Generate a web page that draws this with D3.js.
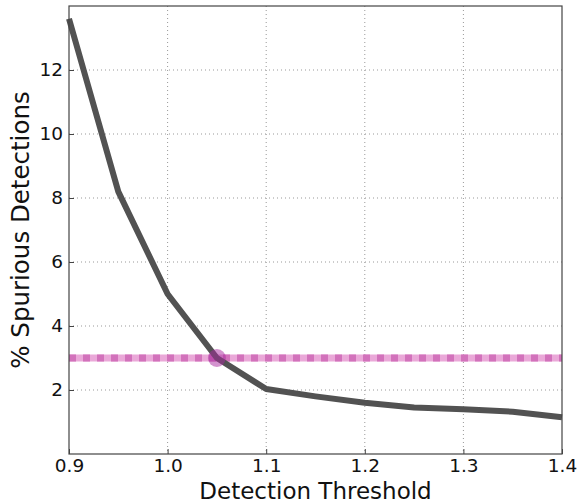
<!DOCTYPE html>
<html>
<head>
<meta charset="utf-8">
<script src="https://cdn.jsdelivr.net/npm/d3@7"></script>
<style>
  body { margin: 0; background: #fff; }
  text { font-family: "DejaVu Sans", sans-serif; fill: #111; }
</style>
</head>
<body>
<div id="chart"></div>
<script>
// Data
const thresholds = [0.9, 0.95, 1.0, 1.05, 1.1, 1.15, 1.2, 1.25, 1.3, 1.35, 1.4];
const spurious = [13.6, 8.2, 5.0, 3.0, 2.03, 1.8, 1.6, 1.45, 1.4, 1.32, 1.15];
const targetLevel = 3;
const chosenPoint = [1.05, 3.0];
const xTicks = [0.9, 1.0, 1.1, 1.2, 1.3, 1.4];
const yTicks = [2, 4, 6, 8, 10, 12];

const W = 577, H = 503;
const margin = { top: 6, right: 15, bottom: 49, left: 69 };
const width = W - margin.left - margin.right;
const height = H - margin.top - margin.bottom;

const svg = d3.select("#chart").append("svg")
    .attr("width", W).attr("height", H);
const g = svg.append("g").attr("transform", `translate(${margin.left},${margin.top})`);

const x = d3.scaleLinear().domain([0.9, 1.4]).range([0, width]);
const y = d3.scaleLinear().domain([0, 14]).range([height, 0]);

// grid
g.selectAll(".vgrid").data(xTicks.slice(1, -1)).enter().append("line")
    .attr("x1", d => x(d)).attr("x2", d => x(d))
    .attr("y1", 0).attr("y2", height)
    .attr("stroke", "#999").attr("stroke-width", 1).attr("stroke-dasharray", "1,3");
g.selectAll(".hgrid").data(yTicks).enter().append("line")
    .attr("x1", 0).attr("x2", width)
    .attr("y1", d => y(d)).attr("y2", d => y(d))
    .attr("stroke", "#999").attr("stroke-width", 1).attr("stroke-dasharray", "1,3");

// target level line (light pink with darker dashes)
g.append("line")
    .attr("x1", 0).attr("x2", width)
    .attr("y1", y(targetLevel)).attr("y2", y(targetLevel))
    .attr("stroke", "#eaa8d8").attr("stroke-width", 7);
g.append("line")
    .attr("x1", 0).attr("x2", width)
    .attr("y1", y(targetLevel)).attr("y2", y(targetLevel))
    .attr("stroke", "#d272bb").attr("stroke-width", 7).attr("stroke-dasharray", "7,7");

// main curve
const line = d3.line().x((d, i) => x(thresholds[i])).y(d => y(d));
g.append("path")
    .datum(spurious)
    .attr("d", line)
    .attr("fill", "none")
    .attr("stroke", "#525252")
    .attr("stroke-width", 6)
    .attr("stroke-linejoin", "round");

// highlighted point
g.append("circle")
    .attr("cx", x(chosenPoint[0])).attr("cy", y(chosenPoint[1]))
    .attr("r", 9)
    .attr("fill", "#a8289e").attr("fill-opacity", 0.5);

// frame
g.append("rect")
    .attr("width", width).attr("height", height)
    .attr("fill", "none").attr("stroke", "#444").attr("stroke-width", 1.2);

// axes
const xAxis = g.append("g").attr("transform", `translate(0,${height})`)
    .call(d3.axisBottom(x).tickValues(xTicks).tickFormat(d3.format(".1f")).tickSize(-5).tickPadding(5));
const yAxis = g.append("g")
    .call(d3.axisLeft(y).tickValues(yTicks).tickFormat(d3.format("d")).tickSize(-5).tickPadding(6));
[xAxis, yAxis].forEach(a => {
    a.select(".domain").remove();
    a.selectAll(".tick line").attr("stroke", "#444");
    a.selectAll("text").style("font-size", "18.5px").attr("fill", "#111")
        .style("font-family", "DejaVu Sans, sans-serif");
});

// labels
svg.append("text")
    .attr("x", margin.left + width / 2).attr("y", 498.5)
    .attr("text-anchor", "middle")
    .style("font-size", "23px")
    .text("Detection Threshold");
svg.append("text")
    .attr("transform", `translate(29,${margin.top + height / 2}) rotate(-90)`)
    .attr("text-anchor", "middle")
    .style("font-size", "24.5px")
    .text("% Spurious Detections");
</script>
</body>
</html>
